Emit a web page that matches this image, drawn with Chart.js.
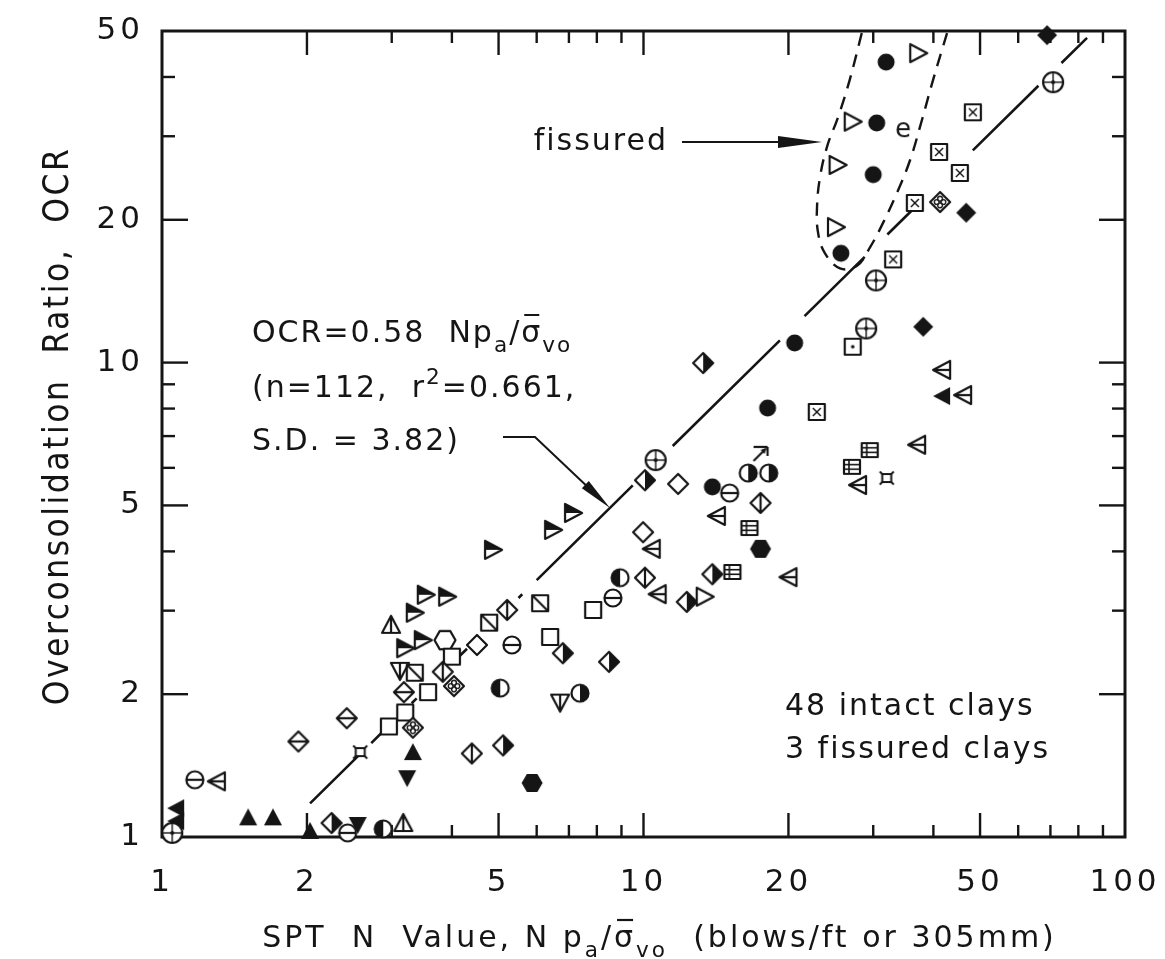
<!DOCTYPE html>
<html>
<head>
<meta charset="utf-8">
<script src="https://cdn.jsdelivr.net/npm/chart.js@4.4.1/dist/chart.umd.min.js"></script>
<style>
  body { margin: 0; background: #fff; }
  #wrap { width: 1165px; height: 959px; }
</style>
</head>
<body>
<div id="wrap"><canvas id="ocr-chart" width="1165" height="959"></canvas></div>
<script>
// axis ticks
const xTicks = [1, 2, 5, 10, 20, 50, 100];
const yTicks = [1, 2, 5, 10, 20, 50];
const xMinor = [3, 4, 6, 7, 8, 9, 30, 40, 60, 70, 80, 90];
const yMinor = [3, 4, 6, 7, 8, 9, 30, 40];

// [N pa/sigma'vo, OCR], one list per plotting symbol
const filledDiamond = [[68.9, 49.0], [46.8, 20.7], [38.1, 11.9]];
const openRightTri = [[37.2, 44.9], [27.2, 32.2], [25.3, 26.1], [25.1, 19.3], [13.4, 3.21]];
const filledCircle = [[31.9, 43.0], [30.5, 32.0], [30.0, 24.9], [25.7, 17.0], [20.6, 11.0], [18.1, 8.02], [13.9, 5.47]];
const crossCircle = [[70.9, 39.0], [30.4, 14.9], [29.0, 11.8], [10.6, 6.23], [1.05, 1.02]];
const crossSquare = [[48.3, 33.7], [41.1, 27.8], [45.4, 25.1], [36.6, 21.7], [33.0, 16.5], [22.9, 7.87]];
const letterE = [[34.6, 30.9]];
const quatrefoil = [[41.3, 21.8], [4.04, 2.08], [3.32, 1.70]];
const dotSquare = [[27.2, 10.8]];
const barLeftTri = [[41.7, 9.65], [46.1, 8.54], [37.0, 6.71], [27.9, 5.52], [14.2, 4.75], [10.4, 4.05], [20.0, 3.53], [10.7, 3.25], [1.30, 1.31]];
const filledLeftTri = [[41.7, 8.50], [1.07, 1.15], [1.07, 1.08]];
const lineSquare = [[29.5, 6.54], [27.1, 6.03], [16.6, 4.48], [15.3, 3.62]];
const starSquare = [[32.0, 5.71], [2.58, 1.51]];
const halfDiamond = [[13.3, 9.98], [10.07, 5.65], [13.9, 3.58], [12.3, 3.13], [6.80, 2.44], [8.48, 2.34], [5.11, 1.56], [2.25, 1.07]];
const openDiamond = [[11.8, 5.55], [9.98, 4.39], [4.51, 2.54]];
const arrowSquare = [[17.5, 6.42]];
const halfCircleR = [[16.5, 5.85], [18.2, 5.85], [7.38, 2.01]];
const halfCircleL = [[8.94, 3.52], [5.04, 2.06], [2.88, 1.04]];
const barCircle = [[15.1, 5.31], [8.64, 3.19], [5.33, 2.54], [1.17, 1.32], [2.43, 1.02]];
const barDiamond = [[17.5, 5.06], [10.07, 3.52], [5.21, 3.01], [3.83, 2.23], [4.40, 1.50]];
const filledHex = [[17.5, 4.05], [5.87, 1.30]];
const openSquare = [[7.86, 3.01], [6.40, 2.64], [4.00, 2.40], [3.57, 2.02], [3.20, 1.83], [2.96, 1.71]];
const halfRightTri = [[7.14, 4.82], [6.49, 4.44], [4.87, 4.03], [3.35, 2.97], [3.53, 3.24], [3.91, 3.21], [3.20, 2.50], [3.48, 2.60]];
const slashSquare = [[6.10, 3.11], [4.78, 2.83], [3.35, 2.22]];
const barUpTri = [[2.99, 2.80], [3.17, 1.07]];
const openHex = [[3.87, 2.60]];
const openDownTri = [[3.12, 2.24], [6.71, 1.92]];
const hbarDiamond = [[3.18, 2.02], [2.42, 1.78], [1.92, 1.59]];
const filledUpTri = [[3.32, 1.51], [1.51, 1.10], [1.70, 1.10], [2.03, 1.03]];
const filledDownTri = [[3.23, 1.33], [2.55, 1.06]];

// best fit OCR = 0.58 N pa/sigma'vo, drawn in the pieces visible between symbols
const fitSlope = 0.58;
const fitPieces = [[2.03, 2.60], [2.72, 2.88], [3.3, 3.38], [4.1, 4.3], [4.75, 4.85], [5.5, 5.6],
  [6.0, 9.5], [11.5, 19.2], [21.6, 28.8], [32.1, 36.6], [48.3, 66.1], [73.8, 83.4]];

// dashed envelope round the fissured clays
const envelopeN = [28.4, 26.8, 25.35, 24.05, 23.26, 22.93, 23.04, 23.82, 25.59, 27.76, 29.54, 31.44, 33.61, 35.77, 37.88, 39.93, 42.7];
const envelopeOCR = [49.5, 39.4, 32.9, 28.5, 24.6, 21.3, 18.8, 17.0, 15.8, 16.0, 17.5, 19.7, 22.8, 26.7, 32.5, 39.4, 49.5];

const INK = "#151515";
const FONT = '"DejaVu Sans", sans-serif';

// ---- plotting symbols drawn into small canvases ----
function marker(draw) {
    const c = document.createElement("canvas");
    c.width = 30;
    c.height = 30;
    const g = c.getContext("2d");
    g.translate(15, 15);
    g.lineWidth = 2.2;
    g.strokeStyle = INK;
    g.fillStyle = "#fff";
    g.lineJoin = "round";
    draw(g);
    return c;
}
function poly(g, pts) {
    g.beginPath();
    pts.forEach(([x, y], i) => (i ? g.lineTo(x, y) : g.moveTo(x, y)));
    g.closePath();
}
function seg(g, x1, y1, x2, y2) {
    g.beginPath();
    g.moveTo(x1, y1);
    g.lineTo(x2, y2);
    g.stroke();
}
function disc(g, r) {
    g.beginPath();
    g.arc(0, 0, r, 0, Math.PI * 2);
}
const DIA = [[0, -10], [10, 0], [0, 10], [-10, 0]];
const UP = [[0, -9], [9, 8], [-9, 8]];
const DOWN = [[0, 9], [9, -8], [-9, -8]];
const RIGHT = [[9, 0], [-8, -9], [-8, 9]];
const LEFT = [[-9, 0], [8, -9], [8, 9]];
const HEX = [0, 1, 2, 3, 4, 5].map((k) => [10.5 * Math.cos((k * Math.PI) / 3), 10.5 * Math.sin((k * Math.PI) / 3)]);

const symbols = {
    filledDiamond: marker((g) => { poly(g, DIA); g.fillStyle = INK; g.fill(); }),
    openRightTri: marker((g) => { poly(g, RIGHT); g.fill(); g.stroke(); }),
    filledCircle: marker((g) => { disc(g, 8.5); g.fillStyle = INK; g.fill(); }),
    crossCircle: marker((g) => {
        disc(g, 10); g.fill(); g.stroke();
        g.lineWidth = 1.4; seg(g, -10, 0, 10, 0); seg(g, 0, -10, 0, 10);
        disc(g, 2); g.fillStyle = INK; g.fill();
    }),
    crossSquare: marker((g) => {
        g.fillRect(-8, -8, 16, 16); g.strokeRect(-8, -8, 16, 16);
        g.lineWidth = 1.4; seg(g, -4, -4, 4, 4); seg(g, -4, 4, 4, -4);
    }),
    letterE: marker((g) => {
        g.fillStyle = INK; g.font = "26px " + FONT; g.textAlign = "center"; g.textBaseline = "middle";
        g.fillText("e", 0, 0);
    }),
    quatrefoil: marker((g) => {
        poly(g, DIA); g.fill(); g.stroke();
        g.lineWidth = 1.4;
        [[3.3, 0], [-3.3, 0], [0, 3.3], [0, -3.3]].forEach(([x, y]) => {
            g.beginPath(); g.arc(x, y, 2.4, 0, Math.PI * 2); g.stroke();
        });
    }),
    dotSquare: marker((g) => {
        g.fillRect(-8, -8, 16, 16); g.strokeRect(-8, -8, 16, 16);
        disc(g, 1.8); g.fillStyle = INK; g.fill();
    }),
    barLeftTri: marker((g) => { poly(g, LEFT); g.fill(); g.stroke(); seg(g, -9, 0, 8, 0); }),
    filledLeftTri: marker((g) => { poly(g, LEFT); g.fillStyle = INK; g.fill(); }),
    lineSquare: marker((g) => {
        g.fillRect(-8, -7, 16, 14); g.strokeRect(-8, -7, 16, 14);
        g.lineWidth = 1.6; seg(g, -8, -2.3, 8, -2.3); seg(g, -8, 2.3, 8, 2.3); seg(g, -3, -7, -3, 7);
    }),
    starSquare: marker((g) => {
        g.lineWidth = 2; g.fillRect(-4.5, -4, 9, 8); g.strokeRect(-4.5, -4, 9, 8);
        seg(g, -4.5, -4, -7, -6.5); seg(g, 4.5, -4, 7, -6.5); seg(g, -4.5, 4, -7, 6.5); seg(g, 4.5, 4, 7, 6.5);
    }),
    halfDiamond: marker((g) => {
        poly(g, DIA); g.fill();
        poly(g, [[0, -10], [10, 0], [0, 10]]); g.fillStyle = INK; g.fill();
        poly(g, DIA); g.stroke();
    }),
    openDiamond: marker((g) => { poly(g, DIA); g.fill(); g.stroke(); }),
    arrowSquare: marker((g) => {
        seg(g, -7, -7, 7, -7); seg(g, 7, -7, 7, 2); seg(g, -7, 7, 5, -5);
        poly(g, [[6, -6], [0, -4], [4, 0]]); g.fillStyle = INK; g.fill();
    }),
    halfCircleR: marker((g) => {
        disc(g, 8.5); g.fill();
        g.beginPath(); g.arc(0, 0, 8.5, -Math.PI / 2, Math.PI / 2); g.closePath(); g.fillStyle = INK; g.fill();
        disc(g, 8.5); g.stroke();
    }),
    halfCircleL: marker((g) => {
        disc(g, 8.5); g.fill();
        g.beginPath(); g.arc(0, 0, 8.5, Math.PI / 2, (3 * Math.PI) / 2); g.closePath(); g.fillStyle = INK; g.fill();
        disc(g, 8.5); g.stroke();
    }),
    barCircle: marker((g) => { disc(g, 8.5); g.fill(); g.stroke(); seg(g, -8.5, 0, 8.5, 0); }),
    barDiamond: marker((g) => { poly(g, DIA); g.fill(); g.stroke(); seg(g, 0, -10, 0, 10); }),
    filledHex: marker((g) => { poly(g, HEX); g.fillStyle = INK; g.fill(); }),
    openSquare: marker((g) => { g.fillRect(-8, -8, 16, 16); g.strokeRect(-8, -8, 16, 16); }),
    halfRightTri: marker((g) => {
        poly(g, RIGHT); g.fill();
        poly(g, [[9, 0], [-8, -9], [-8, 0]]); g.fillStyle = INK; g.fill();
        poly(g, RIGHT); g.stroke();
    }),
    slashSquare: marker((g) => { g.fillRect(-8, -8, 16, 16); g.strokeRect(-8, -8, 16, 16); seg(g, -8, -8, 8, 8); }),
    barUpTri: marker((g) => { poly(g, UP); g.fill(); g.stroke(); seg(g, 0, -9, 0, 8); }),
    openHex: marker((g) => { poly(g, HEX); g.fill(); g.stroke(); }),
    openDownTri: marker((g) => { poly(g, DOWN); g.fill(); g.stroke(); seg(g, 0, 9, 0, -8); }),
    hbarDiamond: marker((g) => { poly(g, DIA); g.fill(); g.stroke(); seg(g, -10, 0, 10, 0); }),
    filledUpTri: marker((g) => { poly(g, UP); g.fillStyle = INK; g.fill(); }),
    filledDownTri: marker((g) => { poly(g, DOWN); g.fillStyle = INK; g.fill(); }),
};

const groups = {
    filledDiamond, openRightTri, filledCircle, crossCircle, crossSquare, letterE, quatrefoil, dotSquare,
    barLeftTri, filledLeftTri, lineSquare, starSquare, halfDiamond, openDiamond, arrowSquare, halfCircleR,
    halfCircleL, barCircle, barDiamond, filledHex, openSquare, halfRightTri, slashSquare, barUpTri, openHex,
    openDownTri, hbarDiamond, filledUpTri, filledDownTri,
};

const datasets = Object.keys(groups).map((name) => ({
    label: name,
    data: groups[name].map(([n, ocr]) => ({ x: n, y: ocr })),
    pointStyle: symbols[name],
    pointRadius: 10,
    clip: false,
}));

// fit line pieces, separated by gaps
const fitData = [];
for (const [a, b] of fitPieces) {
    fitData.push({ x: a, y: fitSlope * a }, { x: b, y: fitSlope * b }, { x: b, y: null });
}
datasets.push({
    type: "line",
    data: fitData,
    borderColor: INK,
    borderWidth: 2.6,
    pointRadius: 0,
    spanGaps: false,
    showLine: true,
});
datasets.push({
    type: "line",
    data: envelopeN.map((n, i) => ({ x: n, y: envelopeOCR[i] })),
    borderColor: INK,
    borderWidth: 2.4,
    borderDash: [13, 9],
    tension: 0.4,
    pointRadius: 0,
    showLine: true,
    clip: false,
});

// ---- text helpers ----
function drawRuns(ctx, x, y, runs, size) {
    let cx = x;
    for (const r of runs) {
        const fs = r.sub || r.sup ? size * 0.72 : size;
        const dy = r.sub ? size * 0.34 : r.sup ? -size * 0.45 : 0;
        ctx.font = `${fs}px ${FONT}`;
        ctx.fillText(r.t, cx, y + dy);
        const w = ctx.measureText(r.t).width;
        if (r.bar) {
            ctx.beginPath();
            ctx.moveTo(cx + 3, y - size * 0.9);
            ctx.lineTo(cx + w - 3, y - size * 0.9);
            ctx.stroke();
        }
        cx += w;
    }
    return cx - x;
}
function widthOfRuns(ctx, runs, size) {
    let w = 0;
    for (const r of runs) {
        ctx.font = `${r.sub || r.sup ? size * 0.72 : size}px ${FONT}`;
        w += ctx.measureText(r.t).width;
    }
    return w;
}
function arrowHead(ctx, tipX, tipY, fromX, fromY, len, half) {
    const a = Math.atan2(tipY - fromY, tipX - fromX);
    ctx.beginPath();
    ctx.moveTo(tipX, tipY);
    ctx.lineTo(tipX - len * Math.cos(a) + half * Math.sin(a), tipY - len * Math.sin(a) - half * Math.cos(a));
    ctx.lineTo(tipX - len * Math.cos(a) - half * Math.sin(a), tipY - len * Math.sin(a) + half * Math.cos(a));
    ctx.closePath();
    ctx.fill();
}

const spacingPlugin = {
    id: "spacing",
    beforeDraw(chart) { chart.ctx.letterSpacing = "4px"; },
};

const framePlugin = {
    id: "frame",
    beforeDatasetsDraw(chart) {
        const { ctx, chartArea: a, scales } = chart;
        ctx.save();
        ctx.strokeStyle = INK;
        ctx.lineWidth = 3;
        ctx.strokeRect(a.left, a.top, a.right - a.left, a.bottom - a.top);
        ctx.lineWidth = 2.4;
        const tick = (x1, y1, x2, y2) => { ctx.beginPath(); ctx.moveTo(x1, y1); ctx.lineTo(x2, y2); ctx.stroke(); };
        xTicks.slice(1, -1).forEach((v) => {
            const p = scales.x.getPixelForValue(v);
            tick(p, a.bottom, p, a.bottom - 24); tick(p, a.top, p, a.top + 24);
        });
        xMinor.forEach((v) => {
            const p = scales.x.getPixelForValue(v);
            tick(p, a.bottom, p, a.bottom - 12); tick(p, a.top, p, a.top + 12);
        });
        yTicks.slice(1, -1).forEach((v) => {
            const p = scales.y.getPixelForValue(v);
            tick(a.left, p, a.left + 26, p); tick(a.right, p, a.right - 26, p);
        });
        yMinor.forEach((v) => {
            const p = scales.y.getPixelForValue(v);
            tick(a.left, p, a.left + 13, p); tick(a.right, p, a.right - 13, p);
        });
        ctx.restore();
    },
};

const textPlugin = {
    id: "notes",
    afterDraw(chart) {
        const { ctx, chartArea: a } = chart;
        ctx.save();
        ctx.fillStyle = INK;
        ctx.strokeStyle = INK;
        ctx.lineWidth = 2;
        ctx.textBaseline = "alphabetic";
        ctx.letterSpacing = "2px";

        // formula block
        drawRuns(ctx, 252, 342, [{ t: "OCR=0.58  Np" }, { t: "a", sub: true }, { t: "/" }, { t: "σ", bar: true }, { t: "vo", sub: true }], 30);
        drawRuns(ctx, 252, 397, [{ t: "(n=112,  r" }, { t: "2", sup: true }, { t: "=0.661," }], 30);
        drawRuns(ctx, 252, 450, [{ t: "S.D. = 3.82)" }], 30);
        ctx.lineWidth = 2;
        ctx.beginPath();
        ctx.moveTo(503, 437);
        ctx.lineTo(535, 437);
        ctx.lineTo(592, 491);
        ctx.stroke();
        arrowHead(ctx, 610, 508, 535, 437, 34, 5);

        // fissured label
        ctx.font = `30px ${FONT}`;
        ctx.textAlign = "right";
        ctx.fillText("fissured", 668, 150);
        ctx.textAlign = "left";
        ctx.lineWidth = 2.2;
        ctx.beginPath();
        ctx.moveTo(682, 142);
        ctx.lineTo(790, 142);
        ctx.stroke();
        arrowHead(ctx, 822, 142, 682, 142, 44, 6);

        // counts
        ctx.font = `30px ${FONT}`;
        ctx.fillText("48 intact clays", 785, 715);
        ctx.fillText("3 fissured clays", 785, 758);

        // x axis title
        ctx.letterSpacing = "3px";
        const xRuns = [{ t: "SPT  N  Value, N p" }, { t: "a", sub: true }, { t: "/" }, { t: "σ", bar: true }, { t: "vo", sub: true }, { t: "  (blows/ft or 305mm)" }];
        const w = widthOfRuns(ctx, xRuns, 30);
        drawRuns(ctx, (a.left + a.right) / 2 + 16 - w / 2, 947, xRuns, 30);

        // y axis title
        ctx.translate(56, (a.top + a.bottom) / 2 - 8);
        ctx.rotate(-Math.PI / 2);
        ctx.textAlign = "center";
        ctx.letterSpacing = "2.5px";
        ctx.font = '35px "DejaVu Sans Condensed", "DejaVu Sans", sans-serif';
        ctx.fillText("Overconsolidation  Ratio,  OCR", 0, 12);
        ctx.restore();
    },
};

const tickFont = { family: FONT, size: 31 };

new Chart(document.getElementById("ocr-chart"), {
    type: "scatter",
    data: { datasets },
    options: {
        responsive: false,
        animation: false,
        devicePixelRatio: 1,
        layout: { padding: { top: 31, right: 40, left: 0, bottom: 0 } },
        plugins: { legend: { display: false }, tooltip: { enabled: false } },
        scales: {
            x: {
                type: "logarithmic",
                min: 1,
                max: 100,
                grid: { display: false },
                border: { display: false },
                afterBuildTicks: (s) => { s.ticks = xTicks.map((v) => ({ value: v })); },
                afterFit: (s) => { s.height = 122; s.paddingLeft = 0; s.paddingRight = 0; },
                ticks: { autoSkip: false, maxRotation: 0, padding: 19, color: INK, font: tickFont, callback: (v) => String(v) },
            },
            y: {
                type: "logarithmic",
                min: 1,
                max: 50,
                grid: { display: false },
                border: { display: false },
                afterBuildTicks: (s) => { s.ticks = yTicks.map((v) => ({ value: v })); },
                afterFit: (s) => { s.width = 162; s.paddingTop = 0; s.paddingBottom = 0; },
                ticks: { autoSkip: false, padding: 10, color: INK, font: tickFont, callback: (v) => String(v) },
            },
        },
    },
    plugins: [spacingPlugin, framePlugin, textPlugin],
});
</script>
</body>
</html>
